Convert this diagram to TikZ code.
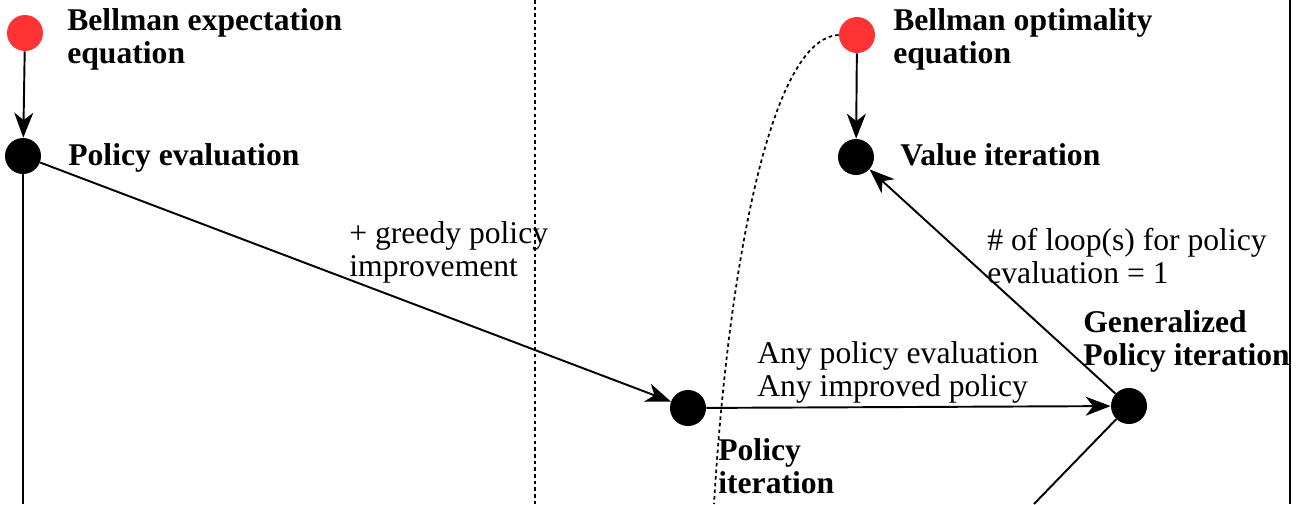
\documentclass[tikz,border=0pt]{standalone}
\usepackage{fontspec}
\setmainfont{Liberation Serif}
\usetikzlibrary{arrows.meta}
\definecolor{dotred}{RGB}{255,51,51}
\begin{document}
\begin{tikzpicture}[x=0.02cm,y=-0.02cm,
  dot/.style={circle,fill=black,inner sep=0pt,minimum size=0.72cm},
  reddot/.style={circle,fill=dotred,inner sep=0pt,minimum size=0.72cm},
  conn/.style={line width=1.1pt},
  arr/.style={conn,-{Stealth[length=0.5cm,width=0.38cm,inset=0.15cm]}},
  dots/.style={line width=1pt,dash pattern=on 2pt off 1.8pt},
  bold/.style={font=\fontsize{18}{18.7}\selectfont\bfseries,align=left,inner sep=0pt,anchor=base west},
  plain/.style={font=\fontsize{18}{18.7}\selectfont,align=left,inner sep=0pt,anchor=base west}]
\useasboundingbox (0,0) rectangle (1298,504);
% frame lines
\coordinate (divtop) at (535,0);
\coordinate (divbot) at (535,504);
\draw[dots] (divtop) -- (divbot);
\coordinate (rtop) at (1290,0);
\coordinate (rbot) at (1290,504);
\draw[line width=0.8pt] (rtop) -- (rbot);
% nodes
\node[reddot] (bee) at (25,33) {};
\node[dot] (pe) at (23,156) {};
\node[reddot] (boe) at (857,35) {};
\node[dot] (vi) at (856,157) {};
\node[dot] (pi) at (688,408) {};
\node[dot] (gpi) at (1129,406) {};
% labels (anchored at the baseline of the last line)
\node[bold] (tbee) at (67,63) {Bellman expectation\\equation};
\node[bold] (tpe) at (68,165) {Policy evaluation};
\node[bold] (tboe) at (893,63) {Bellman optimality\\equation};
\node[bold] (tvi) at (900,165) {Value iteration};
\node[bold] (tpi) at (718,493) {Policy\\iteration};
\node[bold] (tgpi) at (1083,365) {Generalized\\Policy iteration};
\node[plain] (tgreedy) at (349,276) {+ greedy policy\\improvement};
\node[plain] (tany) at (757,396) {Any policy evaluation\\Any improved policy};
\node[plain] (tloop) at (987,283) {\# of loop(s) for policy\\evaluation = 1};
% connectors
\draw[arr] (bee) -- (pe);
\draw[arr] (boe) -- (vi);
\draw[arr] (pe) -- (pi);
\draw[arr] (pi) -- (gpi);
\draw[arr] (gpi) -- (vi);
\coordinate (pebot) at (23,504);
\draw[conn] (pe) -- (pebot);
\coordinate (gpibot) at (1034,504);
\draw[conn] (gpi) -- (gpibot);
\coordinate (curveend) at (714,504);
\draw[dots] (boe.west) .. controls (770,38) and (728,270) .. (curveend);
\end{tikzpicture}
\end{document}
